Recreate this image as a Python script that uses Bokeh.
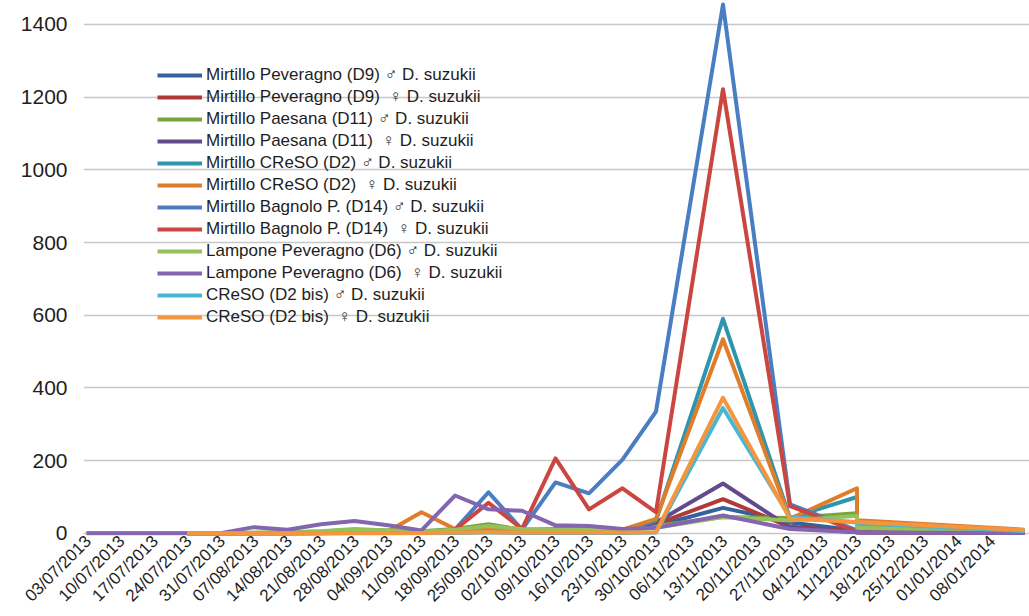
import math
from datetime import datetime
from bokeh.plotting import figure
from bokeh.models import FixedTicker, Legend, LegendItem, Range1d
from bokeh.embed import file_html
from bokeh.resources import INLINE

# ---- data -------------------------------------------------------------
tick_labels = ["03/07/2013", "10/07/2013", "17/07/2013", "24/07/2013", "31/07/2013",
               "07/08/2013", "14/08/2013", "21/08/2013", "28/08/2013", "04/09/2013",
               "11/09/2013", "18/09/2013", "25/09/2013", "02/10/2013", "09/10/2013",
               "16/10/2013", "23/10/2013", "30/10/2013", "06/11/2013", "13/11/2013",
               "20/11/2013", "27/11/2013", "04/12/2013", "11/12/2013", "18/12/2013",
               "25/12/2013", "01/01/2014", "08/01/2014"]

sample_dates = ["03/07/2013", "10/07/2013", "17/07/2013", "24/07/2013", "31/07/2013",
                "07/08/2013", "14/08/2013", "21/08/2013", "28/08/2013", "04/09/2013",
                "11/09/2013", "18/09/2013", "25/09/2013", "02/10/2013", "09/10/2013",
                "16/10/2013", "23/10/2013", "30/10/2013", "13/11/2013", "27/11/2013",
                "11/12/2013", "11/12/2013", "15/01/2014"]

series_names = [
    "Mirtillo Peveragno (D9) \u2642 D. suzukii",
    "Mirtillo Peveragno (D9)  \u2640 D. suzukii",
    "Mirtillo Paesana (D11) \u2642 D. suzukii",
    "Mirtillo Paesana (D11)  \u2640 D. suzukii",
    "Mirtillo CReSO (D2) \u2642 D. suzukii",
    "Mirtillo CReSO (D2)  \u2640 D. suzukii",
    "Mirtillo Bagnolo P. (D14) \u2642 D. suzukii",
    "Mirtillo Bagnolo P. (D14)  \u2640 D. suzukii",
    "Lampone Peveragno (D6) \u2642 D. suzukii",
    "Lampone Peveragno (D6)  \u2640 D. suzukii",
    "CReSO (D2 bis) \u2642 D. suzukii",
    "CReSO (D2 bis)  \u2640 D. suzukii",
]

N = None
d9_m = [N, N, N, 0, 0, 0, 0, 1, 2, 2, 3, 4, 6, 3, 5, 8, 6, 20, 70, 30, 8, 5, 2]
d9_f = [N, N, N, 0, 0, 0, 0, 1, 2, 2, 3, 5, 10, 4, 8, 10, 8, 25, 94, 18, 5, 3, 1]
d11_m = [N, N, N, 0, 0, 1, 2, 5, 10, 8, 6, 12, 25, 10, 12, 15, 10, 20, 45, 42, 55, 20, 6]
d11_f = [N, N, N, 0, 0, 0, 0, 1, 2, 2, 2, 4, 8, 4, 10, 12, 10, 30, 137, 16, 3, 2, 1]
d2_m = [N, N, N, 0, 0, 0, 0, 0, 1, 2, 3, 5, 8, 5, 6, 8, 8, 35, 590, 42, 100, 30, 8]
d2_f = [N, N, N, 0, 0, 0, 0, 0, 2, 6, 58, 12, 10, 5, 8, 10, 10, 40, 534, 40, 124, 36, 10]
d14_m = [N, N, N, 0, 0, 0, 0, 0, 1, 2, 3, 10, 113, 10, 140, 110, 203, 335, 1455, 80, 8, 5, 2]
d14_f = [N, N, N, 0, 0, 0, 0, 0, 1, 2, 3, 10, 84, 12, 206, 66, 124, 58, 1222, 75, 5, 3, 1]
d6_m = [0, 0, 0, 0, 0, 2, 3, 6, 12, 8, 5, 10, 20, 12, 10, 12, 10, 15, 45, 35, 48, 15, 5]
d6_f = [0, 0, 0, 0, 0, 17, 10, 25, 34, 22, 8, 104, 66, 62, 22, 20, 12, 15, 49, 12, 3, 2, 1]
d2bis_m = [N, N, N, 0, 0, 0, 0, 0, 0, 0, 0, 1, 2, 1, 1, 1, 1, 2, 345, 45, 30, 28, 6]
d2bis_f = [N, N, N, 0, 0, 0, 0, 0, 0, 0, 1, 2, 3, 2, 2, 2, 2, 3, 373, 40, 31, 31, 9]

series_values = [d9_m, d9_f, d11_m, d11_f, d2_m, d2_f, d14_m, d14_f, d6_m, d6_f, d2bis_m, d2bis_f]

colors = ["#35619f", "#b03a37", "#7aa23f", "#644a8c", "#2e95ae", "#e07d2a",
          "#4a7ec2", "#cb4541", "#96c15a", "#8465b0", "#49b7d3", "#f5953d"]

y_ticks = [0, 200, 400, 600, 800, 1000, 1200, 1400]

# ---- helpers ------------------------------------------------------------
start = datetime.strptime(tick_labels[0], "%d/%m/%Y")


def week_pos(s):
    return (datetime.strptime(s, "%d/%m/%Y") - start).days / 7.0


LABEL_SHIFT = 0.05
sample_x = [week_pos(s) for s in sample_dates]
tick_x = [round(week_pos(s) + LABEL_SHIFT, 2) for s in tick_labels]

# ---- figure -------------------------------------------------------------
FONT = "Liberation Sans"
p = figure(width=1029, height=616, output_backend="svg", toolbar_location=None,
           x_range=Range1d(-0.09, 28.15), y_range=Range1d(-6, 1466),
           min_border_left=83, min_border_right=0, min_border_top=0, min_border_bottom=81)
p.outline_line_color = None
p.background_fill_color = "white"
p.border_fill_color = "white"

p.xgrid.grid_line_color = None
p.ygrid.ticker = FixedTicker(ticks=y_ticks)
p.ygrid.grid_line_color = "#c8c8c8"
p.ygrid.grid_line_width = 1.6

p.yaxis.ticker = FixedTicker(ticks=y_ticks)
p.yaxis.axis_line_color = None
p.yaxis.major_tick_line_color = None
p.yaxis.minor_tick_line_color = None
p.yaxis.major_tick_out = 0
p.yaxis.major_tick_in = 0
p.yaxis.major_label_standoff = 16
p.yaxis.major_label_text_font = FONT
p.yaxis.major_label_text_font_size = "21px"
p.yaxis.major_label_text_color = "#1e1e1e"

p.xaxis.ticker = FixedTicker(ticks=tick_x)
p.xaxis.major_label_overrides = {t: lab for t, lab in zip(tick_x, tick_labels)}
p.xaxis.major_label_orientation = math.pi / 4
p.xaxis.axis_line_color = None
p.xaxis.major_tick_line_color = None
p.xaxis.minor_tick_line_color = None
p.xaxis.major_tick_out = 0
p.xaxis.major_tick_in = 0
p.xaxis.major_label_standoff = 3
p.xaxis.major_label_text_font = FONT
p.xaxis.major_label_text_font_size = "17px"
p.xaxis.major_label_text_color = "#1e1e1e"

items = []
for name, vals, col in zip(series_names, series_values, colors):
    xs = [x for x, v in zip(sample_x, vals) if v is not None]
    ys = [v for v in vals if v is not None]
    r = p.line(xs, ys, line_color=col, line_width=4, line_join="round")
    items.append(LegendItem(label=name, renderers=[r]))

legend = Legend(items=items, location=(74, 208),
                background_fill_alpha=0, border_line_alpha=0,
                padding=0, margin=0, spacing=2,
                glyph_width=45, glyph_height=20, label_height=20, label_standoff=4,
                label_text_font=FONT, label_text_font_size="17px",
                label_text_color="#1e1e1e")
p.add_layout(legend)

open("out.html", "w").write(file_html(p, INLINE))
